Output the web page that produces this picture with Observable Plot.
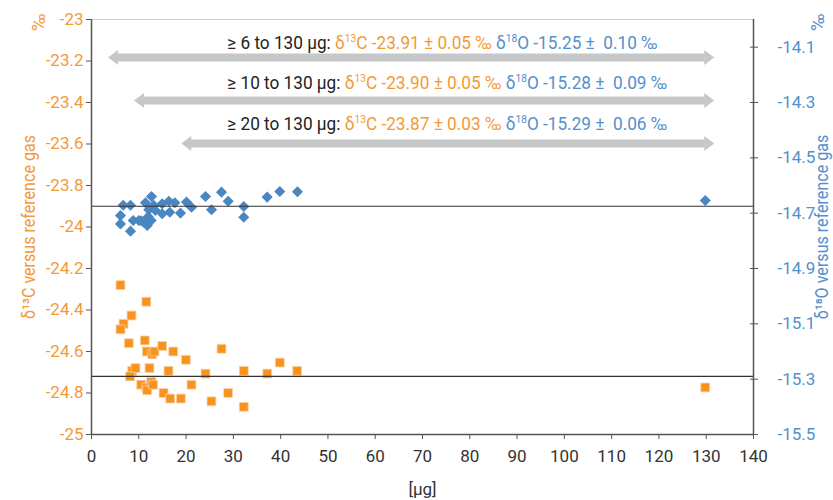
<!DOCTYPE html>
<html>
<head>
<meta charset="utf-8">
<script src="https://cdn.jsdelivr.net/npm/d3@7"></script>
<script src="https://cdn.jsdelivr.net/npm/@observablehq/plot@0.6"></script>
<style>
  body { margin: 0; background: #fff; }
  #chart svg { font-family: Roboto, "Liberation Sans", sans-serif; overflow: visible; }
</style>
</head>
<body>
<div id="chart"></div>
<script>
// ---------- data ----------
// blue diamonds, plotted against the left (δ13C) axis
const c13Mass  = [6.70, 8.25, 6.13, 6.13, 8.25, 8.82, 10.0, 11.42, 12.69, 12.12, 11.06, 11.78, 12.62, 13.17,
                  14.95, 14.95, 16.35, 16.56, 17.62, 18.82, 20.09, 21.15, 24.11, 25.38, 27.49, 28.90,
                  32.2, 32.2, 37.15, 39.82, 43.56, 129.8, 12.0, 13.5, 10.5];
const c13Delta = [-23.895, -23.895, -23.945, -23.985, -24.02, -23.969, -23.969, -23.883, -23.853, -23.917,
                  -23.977, -23.993, -23.969, -23.896, -23.888, -23.936, -23.876, -23.929, -23.883, -23.933,
                  -23.880, -23.905, -23.853, -23.917, -23.832, -23.876, -23.901, -23.953, -23.856, -23.829,
                  -23.830, -23.872, -23.95, -23.92, -23.97];
// orange squares, plotted against the right (δ18O) axis
const o18Mass  = [6.13, 11.6, 8.46, 6.77, 6.13, 7.89, 11.27, 11.70, 12.84, 13.32, 14.95, 17.28, 19.95, 8.60,
                  9.30, 12.26, 16.28, 8.16, 10.5, 11.6, 11.78, 12.63, 13.04, 15.23, 16.64, 18.89, 21.14,
                  24.11, 25.37, 27.49, 28.90, 32.2, 32.2, 37.17, 39.83, 43.5, 129.8];
const o18Delta = [-14.96, -15.02, -15.07, -15.10, -15.12, -15.17, -15.16, -15.20, -15.21, -15.20, -15.18,
                  -15.20, -15.23, -15.27, -15.26, -15.26, -15.27, -15.29, -15.32, -15.33, -15.34, -15.31,
                  -15.32, -15.35, -15.37, -15.37, -15.32, -15.28, -15.38, -15.19, -15.35, -15.27, -15.40,
                  -15.28, -15.24, -15.27, -15.33];

// reference means drawn as horizontal lines
const c13RefLine = -23.90;   // left axis
const o18RefLine = -15.29;   // right axis

// range annotations
const rangeLabels = ["≥ 6 to 130 µg:", "≥ 10 to 130 µg:", "≥ 20 to 130 µg:"];
const c13Means = [-23.91, -23.90, -23.87];
const c13SD    = [0.05, 0.05, 0.03];
const o18Means = [-15.25, -15.28, -15.29];
const o18SD    = [0.10, 0.09, 0.06];
const arrowFrom = [3.5, 9.0, 19.0];     // µg (arrow tips)
const arrowTo   = [131.7, 131.7, 131.7];
const arrowLevel = [-23.183, -23.39, -23.598];  // left-axis units
const textLevel  = [-23.141, -23.334, -23.531];
const textStart  = [28.7, 28.7, 28.7];

// axes
const xTicks = [0, 10, 20, 30, 40, 50, 60, 70, 80, 90, 100, 110, 120, 130, 140];
const leftTicks = [-23, -23.2, -23.4, -23.6, -23.8, -24, -24.2, -24.4, -24.6, -24.8, -25];
const rightTicks = [-14.1, -14.3, -14.5, -14.7, -14.9, -15.1, -15.3, -15.5];
const xDomain = [0, 140];
const leftDomain = [-25, -23];
const rightDomain = [-15.5, -14.0];
const xLabel = "[µg]";
const leftTitle = "δ¹³C versus reference gas";
const rightTitle = "δ¹⁸O versus reference gas";
const unitLabel = "‰";

// ---------- helpers ----------
const ORANGE = "#f7931e", BLUE = "#4a86c0";
const ORANGE_T = "#f39a35", BLUE_T = "#5390cc";
const GRAY = "#c6c7c9", AXIS = "#555";
const k = (leftDomain[1] - leftDomain[0]) / (rightDomain[1] - rightDomain[0]);
const toLeft = r => leftDomain[0] + (r - rightDomain[0]) * k;
const toRight = l => rightDomain[0] + (l - leftDomain[0]) / k;
const fmt1 = d => String(+(+d).toFixed(1));

const blue = c13Mass.map((m, i) => ({m, v: c13Delta[i]}));
const orange = o18Mass.map((m, i) => ({m, v: toLeft(o18Delta[i])}));
const ranges = rangeLabels.map((label, i) => ({
  label, i, from: arrowFrom[i], to: arrowTo[i], y: arrowLevel[i], ty: textLevel[i], tx: textStart[i]
}));

const headRight = {draw(ctx) { ctx.moveTo(0, 0); ctx.lineTo(-10, -7.5); ctx.lineTo(-10, 7.5); ctx.closePath(); }};
const headLeft  = {draw(ctx) { ctx.moveTo(0, 0); ctx.lineTo(10, -7.5); ctx.lineTo(10, 7.5); ctx.closePath(); }};

const chart = Plot.plot({
  width: 833,
  height: 500,
  marginLeft: 91,
  marginRight: 80,
  marginTop: 19,
  marginBottom: 66,
  style: {background: "#fff", fontFamily: "Roboto, sans-serif"},
  x: {domain: xDomain},
  y: {domain: leftDomain},
  marks: [
    Plot.ruleY([leftDomain[1]], {stroke: "#cfcfcf", strokeWidth: 1}),
    // arrows
    Plot.ruleY(ranges, {y: "y", x1: "from", x2: "to", stroke: GRAY, strokeWidth: 8, insetLeft: 9, insetRight: 9}),
    Plot.dot(ranges, {x: "to", y: "y", symbol: headRight, fill: GRAY, stroke: null, r: 5}),
    Plot.dot(ranges, {x: "from", y: "y", symbol: headLeft, fill: GRAY, stroke: null, r: 5}),
    Plot.text(ranges, {x: "tx", y: "ty", text: "label", textAnchor: "start", lineAnchor: "bottom",
      fontSize: 18.5, fill: "#222"}),
    // points
    Plot.dot(orange, {x: "m", y: "v", symbol: "square", r: 5, fill: ORANGE, stroke: "#fbd3a6", strokeWidth: 0.8}),
    Plot.dot(blue, {x: "m", y: "v", symbol: "diamond2", r: 5, fill: BLUE, stroke: null}),
    // reference lines
    Plot.ruleY([c13RefLine], {stroke: "#333", strokeWidth: 1.2}),
    Plot.ruleY([toLeft(o18RefLine)], {stroke: "#333", strokeWidth: 1.2}),
    // axes
    Plot.axisX(xTicks, {tickSize: 5, tickPadding: 10, fontSize: 17, fill: "#333", stroke: AXIS, label: null,
      tickFormat: d => String(d)}),
    Plot.axisY(leftTicks, {anchor: "left", tickSize: 5, tickPadding: 3, fontSize: 17, fill: ORANGE_T,
      stroke: AXIS, label: null, tickFormat: fmt1}),
    Plot.axisY(rightTicks.map(toLeft), {anchor: "right", tickSize: 8, dx: -4, tickPadding: 20, fontSize: 17,
      fill: BLUE_T, stroke: AXIS, label: null, tickFormat: d => fmt1(toRight(d))}),
    Plot.ruleX([xDomain[0], xDomain[1]], {stroke: AXIS, strokeWidth: 1.5}),
    Plot.ruleY([leftDomain[0]], {stroke: AXIS, strokeWidth: 1.5}),
    // titles
    Plot.text([xLabel], {frameAnchor: "bottom", dy: 60, fontSize: 17, fill: "#333"}),
    Plot.text([leftTitle], {frameAnchor: "left", dx: -57, rotate: -90, textAnchor: "middle", lineAnchor: "bottom", fontSize: 17.5, fill: ORANGE_T}),
    Plot.text([unitLabel], {frameAnchor: "top-left", dx: -47, dy: -6, rotate: -90, textAnchor: "end", lineAnchor: "bottom", fontSize: 18, fill: ORANGE_T}),
    Plot.text([rightTitle], {frameAnchor: "right", dx: 74, rotate: -90, textAnchor: "middle", lineAnchor: "bottom", fontSize: 17.5, fill: BLUE_T}),
    Plot.text([unitLabel], {frameAnchor: "top-right", dx: 70, dy: -6, rotate: -90, textAnchor: "end", lineAnchor: "bottom", fontSize: 18, fill: BLUE_T})
  ]
});

document.getElementById("chart").appendChild(chart);

// the original uses a condensed typeface: squeeze text along its direction about its anchor
function condense(node, f) {
  const t = node.getAttribute("transform") || "";
  node.setAttribute("transform", (t + ` scale(${f},1)`).trim());
}

// rich text for the annotations (multi-coloured, with superscripts)
const NS = "http://www.w3.org/2000/svg";
chart.querySelectorAll("text").forEach(node => {
  const content = node.textContent;
  if (content === leftTitle || content === rightTitle) { condense(node, 0.92); return; }
  const i = rangeLabels.indexOf(content);
  if (i < 0) return;
  const segs = [
    {t: rangeLabels[i] + " ", fill: "#222"},
    {t: "δ", fill: ORANGE_T}, {t: "13", fill: ORANGE_T, sup: true},
    {t: "C " + c13Means[i].toFixed(2) + " ± " + c13SD[i].toFixed(2) + " ‰ ", fill: ORANGE_T},
    {t: "δ", fill: BLUE_T}, {t: "18", fill: BLUE_T, sup: true},
    {t: "O " + o18Means[i].toFixed(2) + " ±  " + o18SD[i].toFixed(2) + " ‰", fill: BLUE_T}
  ];
  node.textContent = "";
  node.setAttribute("style", "white-space: pre");
  let raised = false;
  for (const s of segs) {
    const ts = document.createElementNS(NS, "tspan");
    ts.textContent = s.t;
    ts.setAttribute("fill", s.fill);
    if (s.sup) { ts.setAttribute("font-size", "11"); ts.setAttribute("dy", "-7"); raised = true; }
    else if (raised) { ts.setAttribute("dy", "7"); raised = false; }
    node.appendChild(ts);
  }
  condense(node, 0.93);
});
</script>
</body>
</html>
